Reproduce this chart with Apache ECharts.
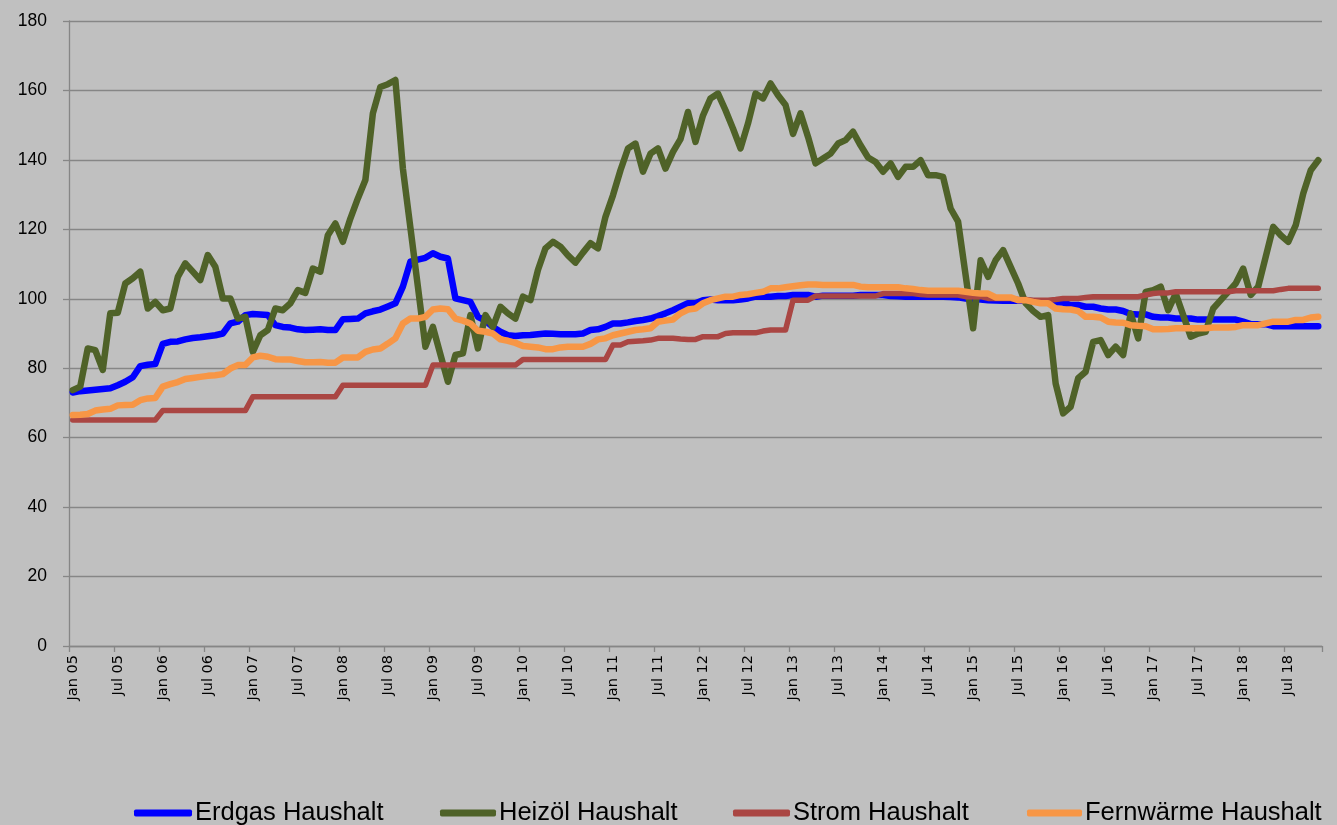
<!DOCTYPE html>
<html>
<head>
<meta charset="utf-8">
<script src="https://cdn.jsdelivr.net/npm/echarts@6/dist/echarts.min.js"></script>
<style>
html,body{margin:0;padding:0;background:#c0c0c0;}
#chart{width:1337px;height:825px;}
</style>
</head>
<body>
<div id="chart"></div>
<script>
const years = ['05','06','07','08','09','10','11','12','13','14','15','16','17','18'];
const monthNames = ['Jan','Feb','Mrz','Apr','Mai','Jun','Jul','Aug','Sep','Okt','Nov','Dez'];
const monthCount = 167; // Jan 05 .. Nov 18
const seriesNames = ['Erdgas Haushalt','Heizöl Haushalt','Strom Haushalt','Fernwärme Haushalt'];

const erdgas = [
73.0,73.4,73.6,73.8,74.0,74.2,75.1,76.1,77.4,80.6,81.0,81.2,
87.0,87.6,87.7,88.3,88.7,88.9,89.2,89.5,90.0,92.9,93.4,95.3,
95.6,95.5,95.3,92.4,91.9,91.7,91.2,91.0,91.1,91.2,91.0,91.0,
94.1,94.2,94.3,95.8,96.4,96.9,97.8,98.7,103.5,110.7,111.3,111.8,
113.1,112.1,111.6,100.1,99.6,99.1,94.8,93.7,91.9,90.5,89.5,89.3,
89.5,89.6,89.8,90.0,89.9,89.8,89.8,89.8,90.0,91.0,91.2,91.9,
92.9,92.9,93.2,93.6,93.9,94.3,95.0,95.8,96.7,97.7,98.7,98.7,
99.6,99.8,99.6,99.6,99.6,99.8,100.1,100.6,100.6,100.6,100.8,100.8,
101.1,101.1,101.1,100.6,100.9,100.9,100.9,100.9,100.9,101.1,101.1,101.1,
101.1,100.8,100.7,100.6,100.6,100.6,100.6,100.6,100.6,100.5,100.4,100.1,
99.9,99.8,99.6,99.5,99.4,99.4,99.5,99.4,99.3,99.2,99.1,99.0,
98.9,98.2,98.2,97.7,97.7,97.2,96.9,96.9,96.5,95.6,95.5,95.5,
94.8,94.6,94.6,94.3,94.3,94.3,94.0,94.0,94.0,94.0,94.0,94.0,
93.4,92.7,92.7,92.7,92.1,92.1,92.1,92.1,92.1,92.1,92.1
];

const heizoel = [
73.7,74.7,85.7,85.2,79.5,95.8,96.0,104.4,105.9,107.8,97.2,99.1,
96.7,97.2,106.3,110.2,107.8,105.4,112.6,109.2,100.1,100.1,94.3,94.8,
84.7,89.5,91.0,97.2,96.7,98.7,102.5,101.7,108.7,107.8,118.3,121.7,
116.4,123.1,128.9,134.2,153.4,161.0,161.8,163.0,137.5,120.5,103.5,86.2,
91.9,84.0,76.1,83.8,84.3,95.3,85.7,95.3,91.9,97.7,95.8,94.3,
100.6,99.6,108.3,114.5,116.4,115.0,112.5,110.4,113.3,116.0,114.5,123.6,
129.8,137.0,143.3,144.7,136.6,141.8,143.3,137.5,142.3,146.0,153.8,145.2,
152.8,157.7,159.1,154.3,149.0,143.3,150.5,159.1,157.7,162.0,158.6,155.8,
147.5,153.4,146.6,139.0,140.4,141.8,144.7,145.7,148.1,144.2,140.7,139.4,
136.6,139.0,135.1,138.0,138.0,139.9,135.6,135.6,135.1,126.0,122.2,106.8,
91.5,111.1,106.3,111.1,114.0,109.2,104.4,98.7,96.5,94.8,95.3,75.6,
67.0,68.9,77.1,79.0,87.6,88.1,83.8,86.2,83.8,95.8,88.6,102.0,
102.5,103.5,96.7,101.5,95.3,89.1,90.0,90.5,97.2,99.6,102.0,104.4,
108.7,101.1,103.5,112.1,120.7,118.3,116.4,121.2,130.3,137.0,139.9
];

const strom = [
65.1,65.1,65.1,65.1,65.1,65.1,65.1,65.1,65.1,65.1,65.1,65.1,
67.8,67.8,67.8,67.8,67.8,67.8,67.8,67.8,67.8,67.8,67.8,67.8,
71.8,71.8,71.8,71.8,71.8,71.8,71.8,71.8,71.8,71.8,71.8,71.8,
75.1,75.1,75.1,75.1,75.1,75.1,75.1,75.1,75.1,75.1,75.1,75.1,
80.9,80.9,80.9,80.9,80.9,80.9,80.9,80.9,80.9,80.9,80.9,80.9,
82.5,82.5,82.5,82.5,82.5,82.5,82.5,82.5,82.5,82.5,82.5,82.5,
86.7,86.7,87.6,87.8,87.9,88.1,88.6,88.6,88.6,88.4,88.3,88.3,
89.1,89.1,89.1,90.0,90.2,90.2,90.2,90.2,90.7,91.0,91.0,91.0,
99.6,99.6,99.6,100.8,100.8,100.8,100.8,100.8,100.8,100.8,100.8,100.8,
101.5,101.5,101.5,101.5,101.5,101.2,101.1,101.1,101.1,101.1,101.1,100.6,
100.6,100.6,100.1,100.1,100.1,100.1,99.8,99.8,99.6,99.6,99.6,99.8,
100.1,100.1,100.1,100.4,100.6,100.6,100.6,100.6,100.6,100.6,100.6,101.1,
101.5,101.7,101.7,102.0,102.0,102.0,102.0,102.0,102.0,102.0,102.0,102.3,
102.3,102.3,102.3,102.3,102.3,102.7,103.0,103.0,103.0,103.0,103.0
];

const fernwaerme = [
66.5,66.6,66.8,67.8,68.1,68.3,69.3,69.4,69.5,70.8,71.3,71.4,
74.7,75.4,76.0,76.9,77.2,77.5,77.8,78.0,78.3,79.9,80.9,80.9,
83.1,83.6,83.3,82.6,82.5,82.5,82.1,81.7,81.7,81.8,81.6,81.6,
83.1,83.1,83.1,84.7,85.4,85.7,87.1,88.6,92.9,94.3,94.3,94.8,
96.9,97.2,97.0,94.3,93.7,92.9,90.8,90.5,90.0,88.3,87.9,87.3,
86.4,86.2,86.0,85.5,85.5,86.0,86.2,86.2,86.2,87.0,88.3,88.6,
89.5,90.0,90.5,91.0,91.2,91.5,93.4,93.7,94.0,95.8,96.9,97.2,
98.7,99.6,100.1,100.6,100.6,101.1,101.3,101.7,102.0,103.0,103.0,103.3,
103.6,103.9,104.1,104.1,104.0,104.0,104.0,104.0,104.0,103.5,103.3,103.3,
103.3,103.3,103.3,103.0,102.8,102.5,102.3,102.3,102.3,102.3,102.3,102.0,
101.7,101.5,101.5,100.4,100.4,100.4,99.6,99.6,99.1,98.7,98.7,97.2,
97.0,96.9,96.5,94.8,94.8,94.6,93.4,93.2,93.1,92.4,92.2,92.1,
91.2,91.2,91.3,91.5,91.5,91.5,91.5,91.5,91.7,91.7,91.7,91.9,
92.4,92.4,92.4,92.9,93.4,93.4,93.4,93.9,93.9,94.6,94.8
];

const categories = [];
for (let i = 0; i < monthCount; i++) {
  categories.push(monthNames[i % 12] + ' ' + years[Math.floor(i / 12)]);
}

const colors = ['#0000ff', '#4f6228', '#aa4643', '#f79646'];
const widths = [6.5, 6.5, 5.5, 6.5];
const dataList = [erdgas, heizoel, strom, fernwaerme];

const chart = echarts.init(document.getElementById('chart'), null, {renderer: 'canvas'});

const legendFont = "'Liberation Sans', Arial, sans-serif";
const legendLefts = [134, 440, 733, 1027];
const legendIconW = [58, 56, 57, 55];

chart.setOption({
  backgroundColor: '#c0c0c0',
  animation: false,
  color: colors,
  grid: {left: 69, right: 15, top: 21, bottom: 179, containLabel: false},
  legend: seriesNames.map((n, i) => ({
    data: [n],
    left: legendLefts[i],
    top: 800,
    itemWidth: legendIconW[i],
    itemHeight: 7,
    itemGap: 0,
    icon: 'roundRect',
    padding: 0,
    selectedMode: false,
    textStyle: {fontFamily: legendFont, fontSize: 25.5, color: '#000', padding: [0,0,0,-2]}
  })),
  xAxis: {
    type: 'category',
    data: categories,
    boundaryGap: true,
    axisLine: {lineStyle: {color: '#868686', width: 1.3}},
    axisTick: {show: true, interval: 5, length: 6, lineStyle: {color: '#868686', width: 1.3}},
    axisLabel: {
      interval: 5, rotate: 90, margin: 9,
      fontFamily: "'DejaVu Sans', sans-serif", fontSize: 14.5, color: '#000'
    },
    splitLine: {show: false}
  },
  yAxis: {
    type: 'value',
    min: 0, max: 180, interval: 20,
    axisLine: {show: true, lineStyle: {color: '#868686', width: 1.3}},
    axisTick: {show: true, length: 6, lineStyle: {color: '#868686', width: 1.3}},
    axisLabel: {margin: 22, fontFamily: "'Liberation Sans', Arial, sans-serif", fontSize: 17.5, color: '#000'},
    splitLine: {lineStyle: {color: '#868686', width: 1.3}}
  },
  series: seriesNames.map((n, i) => ({
    name: n,
    type: 'line',
    data: dataList[i],
    symbol: 'none',
    smooth: false,
    lineStyle: {color: colors[i], width: widths[i], cap: 'round', join: 'round'},
    itemStyle: {color: colors[i]}
  }))
});
</script>
</body>
</html>
